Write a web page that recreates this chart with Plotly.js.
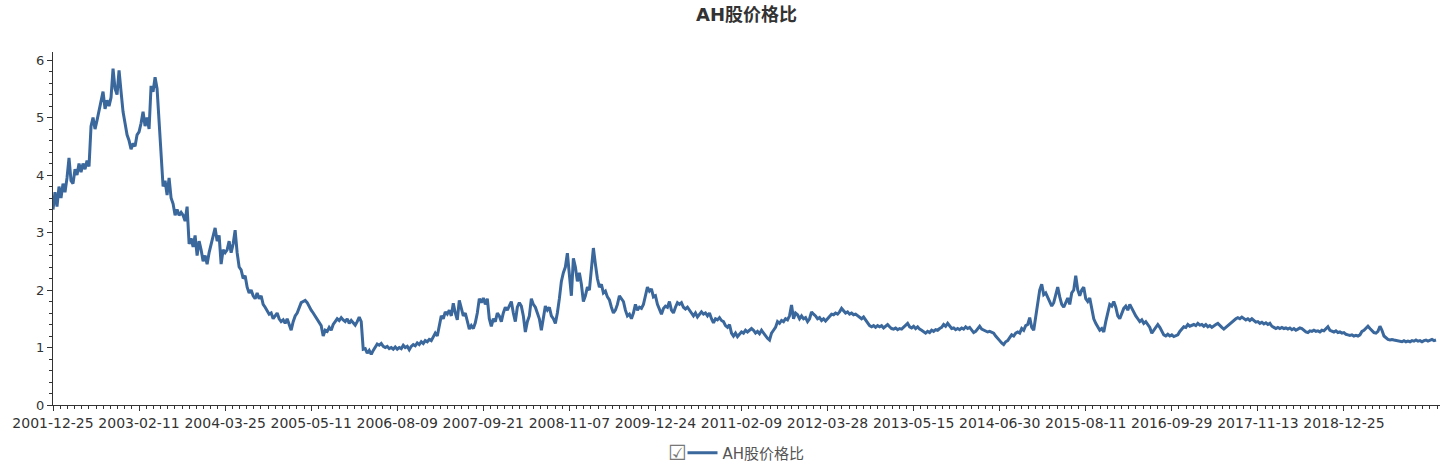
<!DOCTYPE html>
<html><head><meta charset="utf-8">
<script src="https://cdn.plot.ly/plotly-3.0.1.min.js"></script>
<style>html,body{margin:0;padding:0;background:#fff;}#chart{width:1447px;height:470px;}</style>
</head><body><div id="chart"></div>
<script>
const seriesName = 'AH股价格比';
const tickLabels = ['2001-12-25','2003-02-11','2004-03-25','2005-05-11','2006-08-09','2007-09-21','2008-11-07','2009-12-24','2011-02-09','2012-03-28','2013-05-15','2014-06-30','2015-08-11','2016-09-29','2017-11-13','2018-12-25'];
const samplesPerLabel = 43;

const ratio2002to2003 = [3.4,3.7,3.45,3.8,3.6,3.85,3.7,3.95,4.3,3.9,
3.85,4.1,4.0,4.2,4.05,4.2,4.1,4.25,4.15,4.85,
5.0,4.8,4.95,5.1,5.3,5.45,5.15,5.3,5.2,5.35,
5.85,5.5,5.4,5.82,5.45,5.1,4.9,4.7,4.6,4.45,
4.55,4.5,4.7,4.75,4.9,5.1,4.85,5.0,4.8,5.55,
5.45,5.7,5.5,4.9,4.5,3.8,3.9,3.65,3.95,3.6,
3.5,3.3,3.4,3.3,3.35,3.3,3.2,3.45,2.8,2.9,
2.75,2.95,2.6,2.85,2.7,2.5,2.6,2.45,2.65,2.8,
2.95,3.08,2.85,2.95,2.45,2.7,2.65,2.7,2.85,2.65,
2.8,3.04];
const ratio2004to2005 = [2.65,2.4,2.35,2.2,2.25,2.05,1.95,2.0,1.9,1.85,
1.95,1.85,1.9,1.75,1.7,1.65,1.58,1.6,1.5,1.55,
1.6,1.5,1.45,1.48,1.42,1.5,1.4,1.3,1.45,1.55,
1.6,1.7,1.78,1.8,1.82,1.78,1.7,1.65,1.6,1.55,
1.5,1.45,1.38,1.2,1.3];
const ratio2005to2007 = [1.28,1.35,1.3,1.4,1.45,1.5,1.47,1.52,1.48,1.45,
1.5,1.42,1.47,1.43,1.39,1.45,1.53,1.45,0.97,0.98,
0.9,0.95,0.88,0.95,1.0,1.06,1.04,1.07,1.02,1.0,
1.02,0.98,1.0,0.97,1.01,0.97,1.0,0.98,1.04,1.0,
1.02,0.96,1.02,1.05,1.03,1.08,1.05,1.1,1.07,1.12,
1.1,1.14,1.12,1.18,1.25,1.2,1.4,1.55,1.5,1.62,
1.58,1.65,1.55,1.77,1.6,1.48,1.82];
const ratio2007to2009 = [1.7,1.55,1.6,1.45,1.32,1.38,1.33,1.43,1.6,1.85,
1.78,1.86,1.75,1.85,1.5,1.37,1.5,1.45,1.6,1.55,
1.45,1.6,1.7,1.65,1.72,1.8,1.6,1.45,1.7,1.78,
1.72,1.55,1.27,1.45,1.55,1.85,1.75,1.7,1.6,1.5,
1.3,1.5,1.72,1.65,1.7,1.55,1.5,1.42,1.6,1.85,
2.15,2.3,2.4,2.64,2.3,1.9,2.55,2.4,2.15,2.3,
2.1,1.8,1.9,2.05,2.0,2.4,2.73,2.45];
const ratio2009to2011 = [2.2,2.05,2.1,1.95,1.98,1.88,1.83,1.7,1.6,1.65,
1.75,1.9,1.85,1.8,1.65,1.55,1.58,1.5,1.6,1.75,
1.65,1.7,1.68,1.75,1.9,2.05,1.98,2.02,1.88,1.9,
1.75,1.65,1.58,1.68,1.72,1.7,1.8,1.65,1.6,1.7,
1.78,1.75,1.78,1.7,1.67,1.7,1.64,1.6,1.55,1.6,
1.53,1.58,1.62,1.58,1.6,1.55,1.6,1.5,1.43,1.5,
1.48,1.52,1.47,1.45,1.38,1.35,1.4];
const ratio2011to2013 = [1.25,1.2,1.25,1.19,1.23,1.27,1.25,1.3,1.27,1.3,
1.33,1.3,1.25,1.28,1.24,1.3,1.25,1.2,1.16,1.13,
1.25,1.3,1.35,1.45,1.42,1.47,1.45,1.5,1.48,1.55,
1.74,1.5,1.6,1.57,1.5,1.55,1.5,1.52,1.45,1.5,
1.62,1.58,1.55,1.5,1.52,1.47,1.5,1.46,1.5,1.55,
1.58,1.57,1.6,1.58,1.62,1.68,1.64,1.6,1.62,1.58,
1.6,1.57,1.58,1.55,1.52,1.5,1.53];
const ratio2013to2014 = [1.48,1.42,1.38,1.36,1.38,1.35,1.38,1.36,1.38,1.34,
1.37,1.4,1.36,1.33,1.32,1.34,1.31,1.33,1.32,1.35,
1.38,1.42,1.36,1.34,1.37,1.33,1.36,1.32,1.3,1.27,
1.25,1.28,1.26,1.3,1.28,1.31,1.3,1.33,1.35,1.4,
1.37,1.42,1.38,1.33,1.34,1.31,1.33,1.31,1.34,1.32,
1.36,1.33,1.35,1.3,1.26,1.28,1.33,1.37,1.32,1.3,
1.28,1.27,1.28,1.26,1.25,1.2,1.15,1.12];
const ratio2014to2016 = [1.08,1.05,1.1,1.12,1.17,1.22,1.2,1.25,1.27,1.25,
1.33,1.3,1.38,1.4,1.52,1.35,1.3,1.55,1.75,2.0,
2.1,1.92,1.95,1.88,1.8,1.72,1.78,1.9,2.05,1.88,
1.75,1.7,1.78,1.86,1.75,1.95,2.0,2.25,2.0,1.9,
2.0,2.05,1.85,1.8,1.86,1.7,1.5,1.42,1.35,1.3,
1.33,1.27,1.45,1.62,1.75,1.72,1.8,1.7,1.55,1.5,
1.6,1.68,1.72,1.65,1.75,1.68,1.62,1.55];
const ratio2016to2018 = [1.5,1.45,1.48,1.42,1.45,1.4,1.35,1.25,1.3,1.35,
1.4,1.35,1.28,1.22,1.2,1.23,1.2,1.22,1.19,1.2,
1.22,1.28,1.32,1.36,1.35,1.4,1.37,1.38,1.4,1.38,
1.42,1.39,1.4,1.37,1.4,1.36,1.38,1.35,1.38,1.4,
1.42,1.38,1.35,1.32,1.35,1.38,1.42,1.44,1.47,1.5,
1.52,1.5,1.53,1.51,1.48,1.5,1.47,1.5,1.46,1.44,
1.45,1.42,1.44,1.41,1.43,1.4,1.42];
const ratio2018to2019 = [1.37,1.35,1.33,1.35,1.33,1.35,1.33,1.34,1.32,1.34,
1.31,1.33,1.3,1.32,1.34,1.33,1.3,1.27,1.26,1.29,
1.28,1.3,1.28,1.29,1.27,1.3,1.29,1.32,1.36,1.3,
1.28,1.27,1.29,1.26,1.27,1.25,1.26,1.23,1.22,1.21,
1.22,1.2,1.21,1.2,1.22,1.28,1.3,1.33,1.37,1.33,
1.3,1.26,1.25,1.28,1.37,1.3,1.2,1.17,1.14,1.13,
1.14,1.13,1.12,1.11,1.1,1.1,1.12,1.1,1.11,1.1,
1.12,1.11,1.13,1.11,1.12,1.1,1.12,1.13,1.11,1.12,
1.14,1.12,1.13];

const values = [].concat(ratio2002to2003, ratio2004to2005, ratio2005to2007, ratio2007to2009,
  ratio2009to2011, ratio2011to2013, ratio2013to2014, ratio2014to2016, ratio2016to2018, ratio2018to2019);
const xIndex = values.map((_, i) => i);
const tickvals = tickLabels.map((_, k) => k * samplesPerLabel);

const lineColor = 'rgb(58,103,156)';
const fontFamily = '"DejaVu Sans", "Noto Sans CJK SC", sans-serif';
const legendY = (405 - 453) / 353;

const trace = {
  x: xIndex, y: values, type: 'scatter', mode: 'lines', name: seriesName,
  line: {color: lineColor, width: 3, shape: 'linear'},
  hoverinfo: 'y'
};

const layout = {
  width: 1447, height: 470,
  margin: {l: 53, r: 7, t: 52, b: 65, autoexpand: false},
  paper_bgcolor: '#fff', plot_bgcolor: '#fff',
  font: {family: fontFamily, color: '#333', size: 13},
  title: {text: seriesName, x: 0.5, xref: 'paper', xanchor: 'center', y: 1 - 15/470, yref: 'container', yanchor: 'middle',
    font: {family: fontFamily, size: 18, weight: 'bold', color: '#333'}},
  xaxis: {
    type: 'linear', range: [0, 693], showgrid: false, zeroline: false, automargin: false,
    showline: true, linecolor: '#333', linewidth: 1,
    tickmode: 'array', tickvals: tickvals, ticktext: tickLabels,
    ticks: 'outside', ticklen: 5, tickcolor: '#333', tickwidth: 1,
    tickfont: {size: 14, color: '#333', family: fontFamily},
    minor: {tickmode: 'linear', tick0: 0, dtick: samplesPerLabel / 12, ticks: 'outside', ticklen: 3, tickcolor: '#333', showgrid: false}
  },
  yaxis: {
    range: [0, 6.14], showgrid: false, zeroline: false, automargin: false,
    showline: true, linecolor: '#333', linewidth: 1,
    tickmode: 'linear', tick0: 0, dtick: 1,
    ticks: 'outside', ticklen: 5, tickcolor: '#333', tickwidth: 1,
    tickfont: {size: 13, color: '#333', family: fontFamily},
    minor: {tickmode: 'linear', tick0: 0, dtick: 0.2, ticks: 'outside', ticklen: 3, tickcolor: '#333', showgrid: false}
  },
  showlegend: true,
  legend: {orientation: 'h', x: (746 - 53) / 1387, xref: 'paper', xanchor: 'center', y: legendY, yref: 'paper', yanchor: 'middle',
    font: {family: fontFamily, size: 15, color: '#555'}, itemwidth: 30, bgcolor: 'rgba(0,0,0,0)'},
  annotations: [{
    text: '☑', xref: 'paper', yref: 'paper', x: (677 - 53) / 1387, y: legendY,
    xanchor: 'center', yanchor: 'middle', showarrow: false,
    font: {family: fontFamily, size: 21, color: '#777'}
  }]
};

Plotly.newPlot('chart', [trace], layout, {displayModeBar: false, staticPlot: true});
</script></body></html>
